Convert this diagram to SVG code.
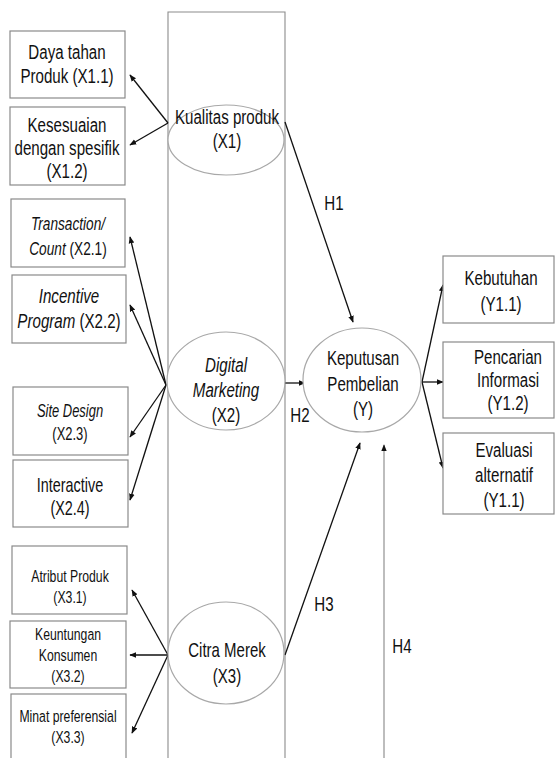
<svg xmlns="http://www.w3.org/2000/svg" width="555" height="758" viewBox="0 0 555 758">
<style>
text{font-family:"Liberation Sans",Arial,sans-serif;fill:#111;text-anchor:middle}
.f21{font-size:21px}.f20{font-size:20px}.f19{font-size:19px}.f18{font-size:18px}.f17{font-size:17px}
.it{font-style:italic}
.box{fill:#fff;stroke:#8a8a8a;stroke-width:1.2}
.ell{fill:#fff;stroke:#a8a8a8;stroke-width:1.2}
.frame{fill:none;stroke:#8c8c8c;stroke-width:1.1}
.c{stroke:#111;stroke-width:1.3;fill:none;marker-end:url(#ah)}
.c4{stroke:#9a9a9a;stroke-width:1.3;fill:none;marker-end:url(#ah)}
</style>
<defs>
<marker id="ah" viewBox="0 0 10 10" refX="9" refY="5" markerWidth="7" markerHeight="7" markerUnits="userSpaceOnUse" orient="auto">
<path d="M0,1 L10,5 L0,9 Z" fill="#111"/>
</marker>
</defs>
<rect width="555" height="758" fill="#fff"/>
<g id="frame"><path class="frame" d="M168,760 V12 H285 V760"/></g>

<g id="connectors">
<line class="c" x1="168" y1="123" x2="130" y2="75"/>
<line class="c" x1="168" y1="123" x2="130" y2="145"/>
<line class="c" x1="166" y1="385" x2="130" y2="237"/>
<line class="c" x1="166" y1="385" x2="130" y2="305"/>
<line class="c" x1="166" y1="385" x2="130" y2="437"/>
<line class="c" x1="166" y1="385" x2="130" y2="500"/>
<line class="c" x1="168" y1="655" x2="132" y2="590"/>
<line class="c" x1="168" y1="655" x2="130" y2="655"/>
<line class="c" x1="168" y1="655" x2="132" y2="733"/>
<line class="c" x1="422" y1="382" x2="443" y2="285"/>
<line class="c" x1="422" y1="382" x2="443" y2="382"/>
<line class="c" x1="422" y1="382" x2="443" y2="468"/>
<line class="c" x1="285" y1="122" x2="353" y2="322"/>
<line class="c" x1="285" y1="383" x2="305" y2="383"/>
<line class="c" x1="285" y1="655" x2="360" y2="443"/>
<line class="c4" x1="384" y1="760" x2="384" y2="445"/>
<g transform="translate(334 0) scale(0.72 1)"><text class="f21" x="0" y="210">H1</text></g>
<g transform="translate(300 0) scale(0.72 1)"><text class="f21" x="0" y="422">H2</text></g>
<g transform="translate(324 0) scale(0.72 1)"><text class="f21" x="0" y="611">H3</text></g>
<g transform="translate(402 0) scale(0.72 1)"><text class="f21" x="0" y="653">H4</text></g>
</g>

<g id="x11"><rect class="box" x="10" y="31" width="115" height="67"/>
<g transform="translate(67 0) scale(0.72 1)"><text class="f21" x="0" y="59">Daya tahan</text><text class="f21" x="0" y="83">Produk (X1.1)</text></g></g>
<g id="x12"><rect class="box" x="10" y="107" width="115" height="78"/>
<g transform="translate(67 0) scale(0.72 1)"><text class="f21" x="0" y="132">Kesesuaian</text><text class="f21" x="0" y="155">dengan spesifik</text><text class="f21" x="0" y="178">(X1.2)</text></g></g>
<g id="x1"><ellipse class="ell" cx="226" cy="140" rx="58" ry="35"/>
<g transform="translate(227 0) scale(0.72 1)"><text class="f21" x="0" y="124">Kualitas produk</text><text class="f21" x="0" y="148">(X1)</text></g></g>

<g id="x21"><rect class="box" x="11" y="199" width="114" height="68"/>
<g transform="translate(68 0) scale(0.72 1)"><text class="f19 it" x="0" y="230">Transaction/</text><text class="f19" x="0" y="255"><tspan class="it">Count</tspan> (X2.1)</text></g></g>
<g id="x22"><rect class="box" x="12" y="275" width="114" height="68"/>
<g transform="translate(69 0) scale(0.72 1)"><text class="f21 it" x="0" y="303">Incentive</text><text class="f21" x="0" y="328"><tspan class="it">Program</tspan> (X2.2)</text></g></g>
<g id="x23"><rect class="box" x="13" y="387" width="115" height="68"/>
<g transform="translate(70 0) scale(0.72 1)"><text class="f18 it" x="0" y="417">Site Design</text><text class="f18" x="0" y="440">(X2.3)</text></g></g>
<g id="x24"><rect class="box" x="13" y="460" width="115" height="67"/>
<g transform="translate(70 0) scale(0.72 1)"><text class="f20" x="0" y="492">Interactive</text><text class="f20" x="0" y="515">(X2.4)</text></g></g>
<g id="x2"><ellipse class="ell" cx="226" cy="381" rx="59" ry="49"/>
<g transform="translate(226 0) scale(0.72 1)"><text class="f21 it" x="0" y="372">Digital</text><text class="f21 it" x="0" y="397">Marketing</text><text class="f21" x="0" y="422">(X2)</text></g></g>

<g id="x31"><rect class="box" x="12" y="546" width="115" height="68"/>
<g transform="translate(70 0) scale(0.72 1)"><text class="f17" x="0" y="582">Atribut Produk</text><text class="f17" x="0" y="603">(X3.1)</text></g></g>
<g id="x32"><rect class="box" x="10" y="621" width="116" height="67"/>
<g transform="translate(68 0) scale(0.72 1)"><text class="f17" x="0" y="640">Keuntungan</text><text class="f17" x="0" y="661">Konsumen</text><text class="f17" x="0" y="682">(X3.2)</text></g></g>
<g id="x33"><rect class="box" x="11" y="694" width="115" height="70"/>
<g transform="translate(68 0) scale(0.72 1)"><text class="f17" x="0" y="722">Minat preferensial</text><text class="f17" x="0" y="743">(X3.3)</text></g></g>
<g id="x3"><ellipse class="ell" cx="226" cy="653" rx="58" ry="51"/>
<g transform="translate(227 0) scale(0.75 1)"><text class="f20" x="0" y="657">Citra Merek</text><text class="f20" x="0" y="683">(X3)</text></g></g>

<g id="y"><ellipse class="ell" cx="362" cy="380" rx="59" ry="52"/>
<g transform="translate(363 0) scale(0.72 1)"><text class="f21" x="0" y="365">Keputusan</text><text class="f21" x="0" y="391">Pembelian</text><text class="f21" x="0" y="416">(Y)</text></g></g>
<g id="y11"><rect class="box" x="443" y="256" width="111" height="67"/>
<g transform="translate(501 0) scale(0.72 1)"><text class="f21" x="0" y="285">Kebutuhan</text><text class="f21" x="0" y="311">(Y1.1)</text></g></g>
<g id="y12"><rect class="box" x="443" y="342" width="111" height="76"/>
<g transform="translate(508 0) scale(0.72 1)"><text class="f21" x="0" y="364">Pencarian</text><text class="f21" x="0" y="387">Informasi</text><text class="f21" x="0" y="410">(Y1.2)</text></g></g>
<g id="y13"><rect class="box" x="443" y="433" width="111" height="81"/>
<g transform="translate(504 0) scale(0.72 1)"><text class="f21" x="0" y="457">Evaluasi</text><text class="f21" x="0" y="482">alternatif</text><text class="f21" x="0" y="507">(Y1.1)</text></g></g>
</svg>
